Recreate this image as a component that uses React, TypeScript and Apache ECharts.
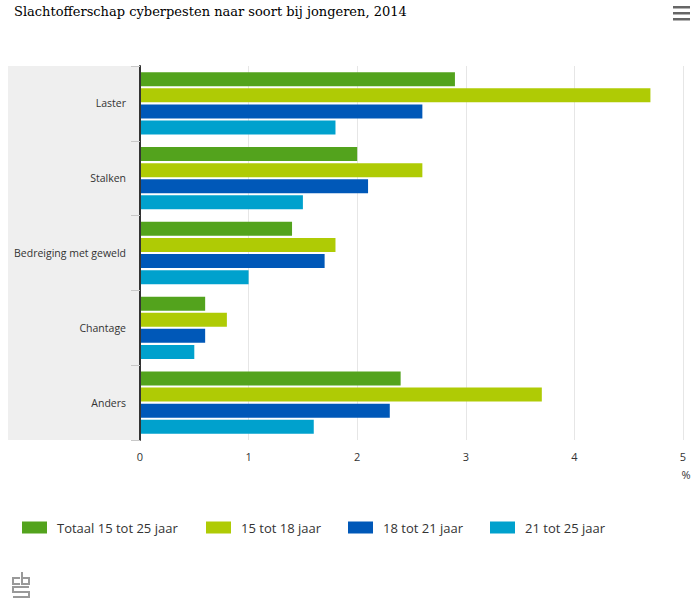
import React, { useEffect, useRef } from "react";
import * as echarts from "echarts";

const categories = ["Laster", "Stalken", "Bedreiging met geweld", "Chantage", "Anders"];
const seriesNames = ["Totaal 15 tot 25 jaar", "15 tot 18 jaar", "18 tot 21 jaar", "21 tot 25 jaar"];
const totaal = [2.9, 2.0, 1.4, 0.6, 2.4];
const age15to18 = [4.7, 2.6, 1.8, 0.8, 3.7];
const age18to21 = [2.6, 2.1, 1.7, 0.6, 2.3];
const age21to25 = [1.8, 1.5, 1.0, 0.5, 1.6];
const seriesData = [totaal, age15to18, age18to21, age21to25];
const colors = ["#53a31d", "#afcb05", "#0058b8", "#00a1cd"];
const title = "Slachtofferschap cyberpesten naar soort bij jongeren, 2014";
const unitLabel = "%";
const legendLefts = [17, 201, 343, 485];

const SANS = "'Open Sans', 'Noto Sans', sans-serif";

export default function App() {
  const ref = useRef<HTMLDivElement>(null);
  useEffect(() => {
    if (!ref.current) return;
    const chart = echarts.init(ref.current, undefined, { renderer: "svg" });
    chart.setOption({
      animation: false,
      backgroundColor: "#ffffff",
      title: {
        text: title,
        left: 9,
        top: 0,
        textStyle: { fontFamily: "'DejaVu Serif', serif", fontSize: 13, fontWeight: "normal", color: "#000" },
      },
      grid: { left: 140, right: 12, top: 66, bottom: 161, containLabel: false },
      legend: seriesNames.map((n, i) => ({
        left: legendLefts[i],
        top: 516,
        icon: "rect",
        itemWidth: 25,
        itemHeight: 12,
        textStyle: { fontFamily: SANS, fontSize: 13, color: "#333", padding: [0, 0, 0, 5] },
        data: [n],
      })),
      xAxis: {
        type: "value",
        min: 0,
        max: 5,
        interval: 1,
        axisLine: { show: false },
        axisTick: { show: false },
        axisLabel: { color: "#333", fontFamily: SANS, fontSize: 11, margin: 11 },
        splitLine: { lineStyle: { color: "#e6e6e6", width: 1 } },
      },
      yAxis: {
        type: "category",
        inverse: true,
        data: categories,
        axisLine: { show: true, lineStyle: { color: "#333", width: 2 } },
        axisTick: { show: true, length: 9, lineStyle: { color: "#c8c8c8" } },
        axisLabel: { color: "#333", fontFamily: SANS, fontSize: 10.5, margin: 14 },
        z: 5,
      },
      series: seriesData.map((d, i) => ({
        type: "bar",
        name: seriesNames[i],
        data: d,
        barWidth: 14,
        barGap: "15%",
        itemStyle: { color: colors[i] },
      })),
      graphic: [
        { type: "rect", left: 8, top: 66, shape: { width: 132, height: 374 }, style: { fill: "#efefef" }, z: -10 },
        { type: "rect", shape: { x: 673, y: 6, width: 17, height: 2.5 }, style: { fill: "#666" } },
        { type: "rect", shape: { x: 673, y: 12, width: 17, height: 2.5 }, style: { fill: "#666" } },
        { type: "rect", shape: { x: 673, y: 18, width: 17, height: 2.5 }, style: { fill: "#666" } },
        {
          type: "text",
          x: 686,
          y: 474,
          style: { text: unitLabel, fill: "#333", fontFamily: SANS, fontSize: 11, align: "center", verticalAlign: "middle" },
        },
        { type: "polyline", shape: { points: [[20, 578], [13, 578], [13, 584], [20, 584]] }, style: { stroke: "#999", lineWidth: 2, fill: "none" } },
        { type: "polyline", shape: { points: [[22, 572], [22, 584], [29, 584], [29, 578], [22, 578]] }, style: { stroke: "#999", lineWidth: 2, fill: "none" } },
        { type: "polyline", shape: { points: [[29, 587], [13, 587], [13, 592], [29, 592], [29, 597], [13, 597]] }, style: { stroke: "#999", lineWidth: 2, fill: "none" } },
      ],
    });
    return () => chart.dispose();
  }, []);
  return <div ref={ref} style={{ position: "fixed", left: 0, top: 0, width: 695, height: 601 }} />;
}
